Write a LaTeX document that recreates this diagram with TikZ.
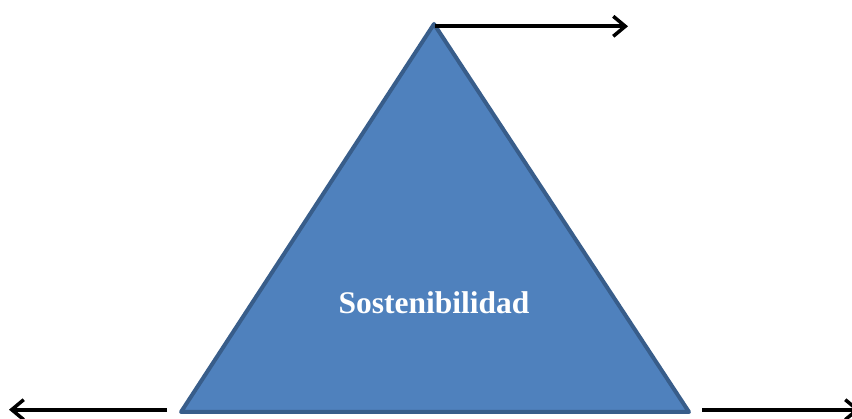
\documentclass[tikz,border=0pt]{standalone}
\usepackage{fontspec}
\setmainfont{Liberation Serif}
\usetikzlibrary{arrows.meta}
\definecolor{triFill}{HTML}{4F81BD}
\definecolor{triEdge}{HTML}{385D8A}
\begin{document}
\begin{tikzpicture}[x=1pt,y=1pt,
  tri/.style={fill=triFill,draw=triEdge,line width=4pt,line join=round},
  arr/.style={draw=black,line width=4pt,-{Straight Barb[length=12pt,width=20pt,line width=3.5pt]}},
  lbl/.style={text=white,font=\bfseries\fontsize{31.5}{36}\selectfont,inner sep=0pt}]
\useasboundingbox (0,0) rectangle (852,419);
\coordinate (apex) at (434,395);
\coordinate (bl) at (181,7);
\coordinate (br) at (689,7);
\draw[tri] (apex) -- (bl) -- (br) -- cycle;
\node[lbl] (txt) at (434,116) {Sostenibilidad};
\coordinate (topstart) at (435,392.7);
\coordinate (topend) at (628,392.7);
\coordinate (lstart) at (167,9.3);
\coordinate (lend) at (9,9.3);
\coordinate (rstart) at (702,9.3);
\coordinate (rend) at (860,9.3);
\draw[arr] (topstart) -- (topend);
\draw[arr] (lstart) -- (lend);
\draw[arr] (rstart) -- (rend);
\end{tikzpicture}
\end{document}
